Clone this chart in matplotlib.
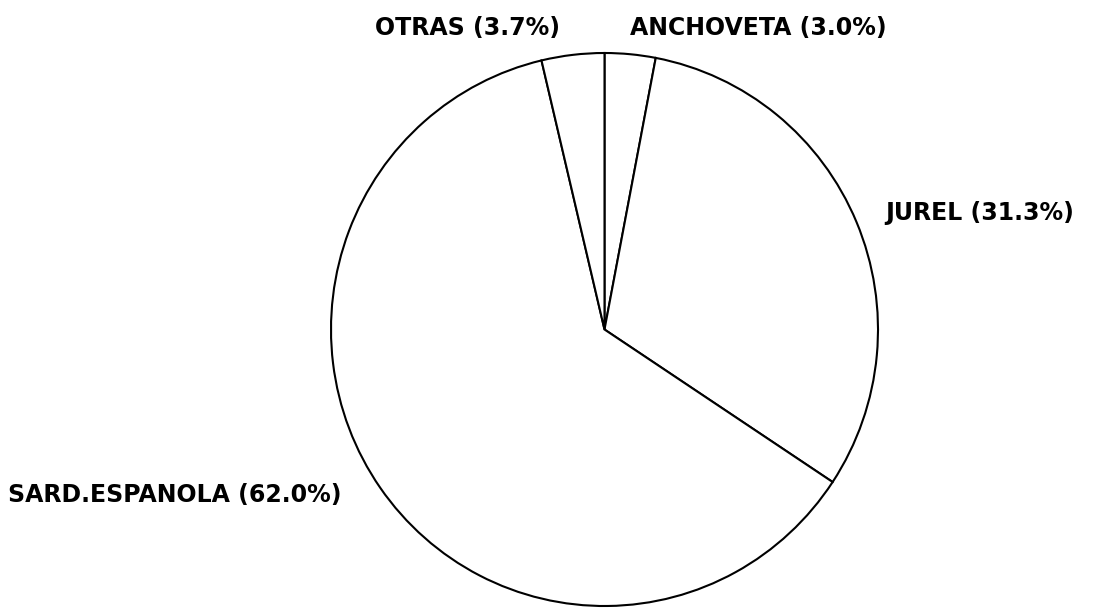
import matplotlib.pyplot as plt

# capturas por especie (%)
especies = ["ANCHOVETA", "JUREL", "SARD.ESPANOLA", "OTRAS"]
porcentajes = [3.0, 31.3, 62.0, 3.7]

# posicion de cada rotulo (fraccion de figura, alineacion izquierda)
rotulo_x = [630 / 1097, 885 / 1097, 8 / 1097, 375 / 1097]
rotulo_y = [1 - 28 / 608, 1 - 213 / 608, 1 - 495 / 608, 1 - 28 / 608]

W, H = 1097, 608
fig = plt.figure(figsize=(W / 100, H / 100), dpi=100)
fig.patch.set_facecolor("white")

# ejes del tamano del circulo
ax = fig.add_axes([331 / W, (H - 606) / H, 547 / W, 553 / H])
ax.pie(porcentajes, startangle=90, counterclock=False,
       colors=["white"] * len(porcentajes),
       wedgeprops=dict(edgecolor="black", linewidth=1.5))
ax.set_aspect("auto")
ax.set_xlim(-1, 1)
ax.set_ylim(-1, 1)
ax.axis("off")

for nombre, pct, x, y in zip(especies, porcentajes, rotulo_x, rotulo_y):
    fig.text(x, y, f"{nombre} ({pct:.1f}%)", ha="left", va="center",
             fontsize=17, fontweight="bold", fontfamily="DejaVu Sans",
             color="black")

fig.savefig("out.png", dpi=100, facecolor="white")
